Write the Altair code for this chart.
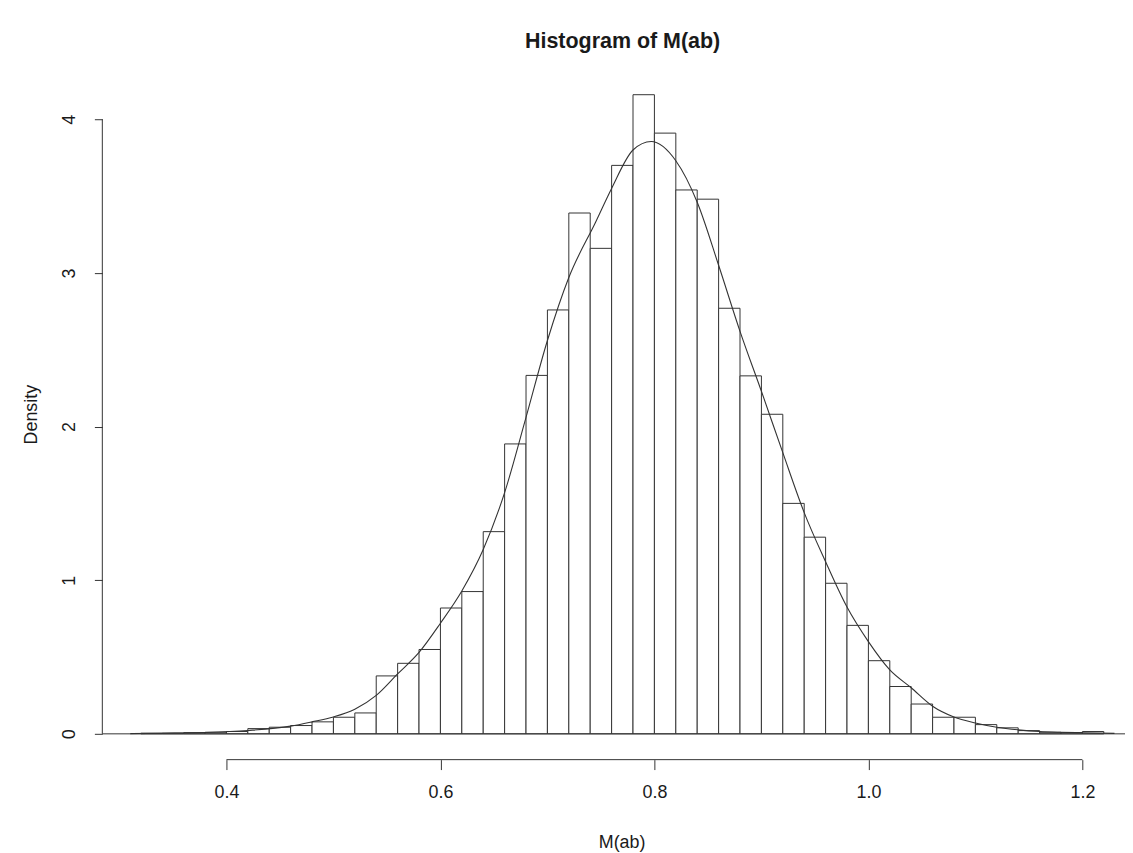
import altair as alt
import pandas as pd

# Histogram bins (width 0.02) and densities
bin_start = [0.32, 0.34, 0.36, 0.38, 0.40, 0.42, 0.44, 0.46, 0.48, 0.50,
             0.52, 0.54, 0.56, 0.58, 0.60, 0.62, 0.64, 0.66, 0.68, 0.70,
             0.72, 0.74, 0.76, 0.78, 0.80, 0.82, 0.84, 0.86, 0.88, 0.90,
             0.92, 0.94, 0.96, 0.98, 1.00, 1.02, 1.04, 1.06, 1.08, 1.10,
             1.12, 1.14, 1.16, 1.18, 1.20]
bin_end = [0.34, 0.36, 0.38, 0.40, 0.42, 0.44, 0.46, 0.48, 0.50, 0.52,
           0.54, 0.56, 0.58, 0.60, 0.62, 0.64, 0.66, 0.68, 0.70, 0.72,
           0.74, 0.76, 0.78, 0.80, 0.82, 0.84, 0.86, 0.88, 0.90, 0.92,
           0.94, 0.96, 0.98, 1.00, 1.02, 1.04, 1.06, 1.08, 1.10, 1.12,
           1.14, 1.16, 1.18, 1.20, 1.22]
bin_density = [0.004, 0.005, 0.008, 0.010, 0.015, 0.034, 0.043, 0.054, 0.078, 0.108,
               0.136, 0.377, 0.459, 0.549, 0.819, 0.926, 1.316, 1.887, 2.333, 2.759,
               3.39, 3.16, 3.70, 4.16, 3.91, 3.54, 3.48, 2.77, 2.33, 2.08,
               1.50, 1.28, 0.98, 0.706, 0.476, 0.308, 0.194, 0.108, 0.108, 0.060,
               0.039, 0.021, 0.010, 0.008, 0.015]

# Density curve points
curve_x = [0.31, 0.34, 0.38, 0.42, 0.46, 0.48, 0.50, 0.52, 0.54, 0.56,
           0.58, 0.60, 0.62, 0.64, 0.66, 0.68, 0.70, 0.72, 0.745, 0.76,
           0.78, 0.797, 0.82, 0.84, 0.86, 0.88, 0.90, 0.92, 0.94, 0.96,
           0.98, 1.00, 1.02, 1.04, 1.06, 1.08, 1.10, 1.12, 1.14, 1.16,
           1.18, 1.20, 1.23]
curve_y = [0.001, 0.004, 0.009, 0.022, 0.050, 0.078, 0.110, 0.160, 0.250, 0.390,
           0.530, 0.720, 0.930, 1.200, 1.570, 2.060, 2.560, 2.970, 3.330, 3.550,
           3.800, 3.855, 3.730, 3.460, 3.050, 2.620, 2.230, 1.830, 1.440, 1.120,
           0.825, 0.600, 0.416, 0.300, 0.180, 0.110, 0.071, 0.043, 0.026, 0.015,
           0.010, 0.007, 0.003]

x_ticks = [0.4, 0.6, 0.8, 1.0, 1.2]
y_ticks = [0, 1, 2, 3, 4]

FONT = "Liberation Sans"
INK = "#1a1a1a"
LINE = "#333333"
W, H = 1022, 696

bars_df = pd.DataFrame({"start": bin_start, "end": bin_end,
                        "density": bin_density, "zero": [0] * len(bin_start)})
curve_df = pd.DataFrame({"x": curve_x, "y": curve_y})

xscale = alt.Scale(domain=[0.284, 1.2324], nice=False, zero=False)
yscale = alt.Scale(domain=[-0.168, 4.33], nice=False, zero=False)

xaxis = alt.Axis(
    values=x_ticks, format=".1f", domain=False, grid=False,
    tickSize=10, tickColor=LINE, tickWidth=1,
    labelFont=FONT, labelFontSize=18, labelColor=INK, labelPadding=14,
    title="M(ab)", titleFont=FONT, titleFontSize=18, titleFontWeight="normal",
    titleColor=INK, titleX=523, titleY=83, titleAlign="center",
    titleBaseline="middle")
yaxis = alt.Axis(
    values=y_ticks, format="d", domain=False, grid=False,
    tickSize=8, tickColor=LINE, tickWidth=1,
    labelFont=FONT, labelFontSize=18, labelColor=INK, labelPadding=20,
    labelAngle=270, labelAlign="center", labelBaseline="alphabetic",
    title="Density", titleFont=FONT, titleFontSize=18, titleFontWeight="normal",
    titleColor=INK, titleAngle=270, titleX=-71, titleY=348,
    titleAlign="center", titleBaseline="middle")

bars = alt.Chart(bars_df).mark_rect(
    fill="white", stroke=LINE, strokeWidth=1
).encode(
    x=alt.X("start:Q", scale=xscale, axis=xaxis, title="M(ab)"),
    x2="end:Q",
    y=alt.Y("density:Q", scale=yscale, axis=yaxis, title="Density"),
    y2="zero:Q",
)

curve = alt.Chart(curve_df).mark_line(
    color=LINE, strokeWidth=1.1, interpolate="monotone", clip=True
).encode(
    x=alt.X("x:Q", scale=xscale, axis=xaxis, title="M(ab)"),
    y=alt.Y("y:Q", scale=yscale, axis=yaxis, title="Density"),
)

xaxis_df = pd.DataFrame({"a": [x_ticks[0]], "b": [x_ticks[-1]]})
xaxis_line = alt.Chart(xaxis_df).mark_rule(color=LINE, strokeWidth=1).encode(
    x=alt.X("a:Q", scale=xscale, axis=xaxis, title="M(ab)"),
    x2="b:Q",
    y=alt.value(H),
)

yaxis_df = pd.DataFrame({"a": [y_ticks[0]], "b": [y_ticks[-1]]})
yaxis_line = alt.Chart(yaxis_df).mark_rule(color=LINE, strokeWidth=1).encode(
    y=alt.Y("a:Q", scale=yscale, axis=yaxis, title="Density"),
    y2="b:Q",
    x=alt.value(0),
)

base_df = pd.DataFrame({"z": [0]})
base_line = alt.Chart(base_df).mark_rule(color=LINE, strokeWidth=1).encode(
    y=alt.Y("z:Q", scale=yscale, axis=yaxis, title="Density"),
    x=alt.value(0),
    x2=alt.value(W + 8),
)

chart = alt.layer(bars, curve, base_line, xaxis_line, yaxis_line).properties(
    width=W, height=H,
    background="white",
    title=alt.TitleParams("Histogram of M(ab)", font=FONT, fontSize=21.6,
                          fontWeight="bold", color=INK, anchor="middle",
                          dx=13, offset=16),
    autosize=alt.AutoSizeParams(type="none"),
    padding={"left": 95, "top": 58, "right": 8, "bottom": 91},
).configure_view(strokeWidth=0, stroke=None)

chart.save("out.html", embed_options={"renderer": "svg", "actions": False})
